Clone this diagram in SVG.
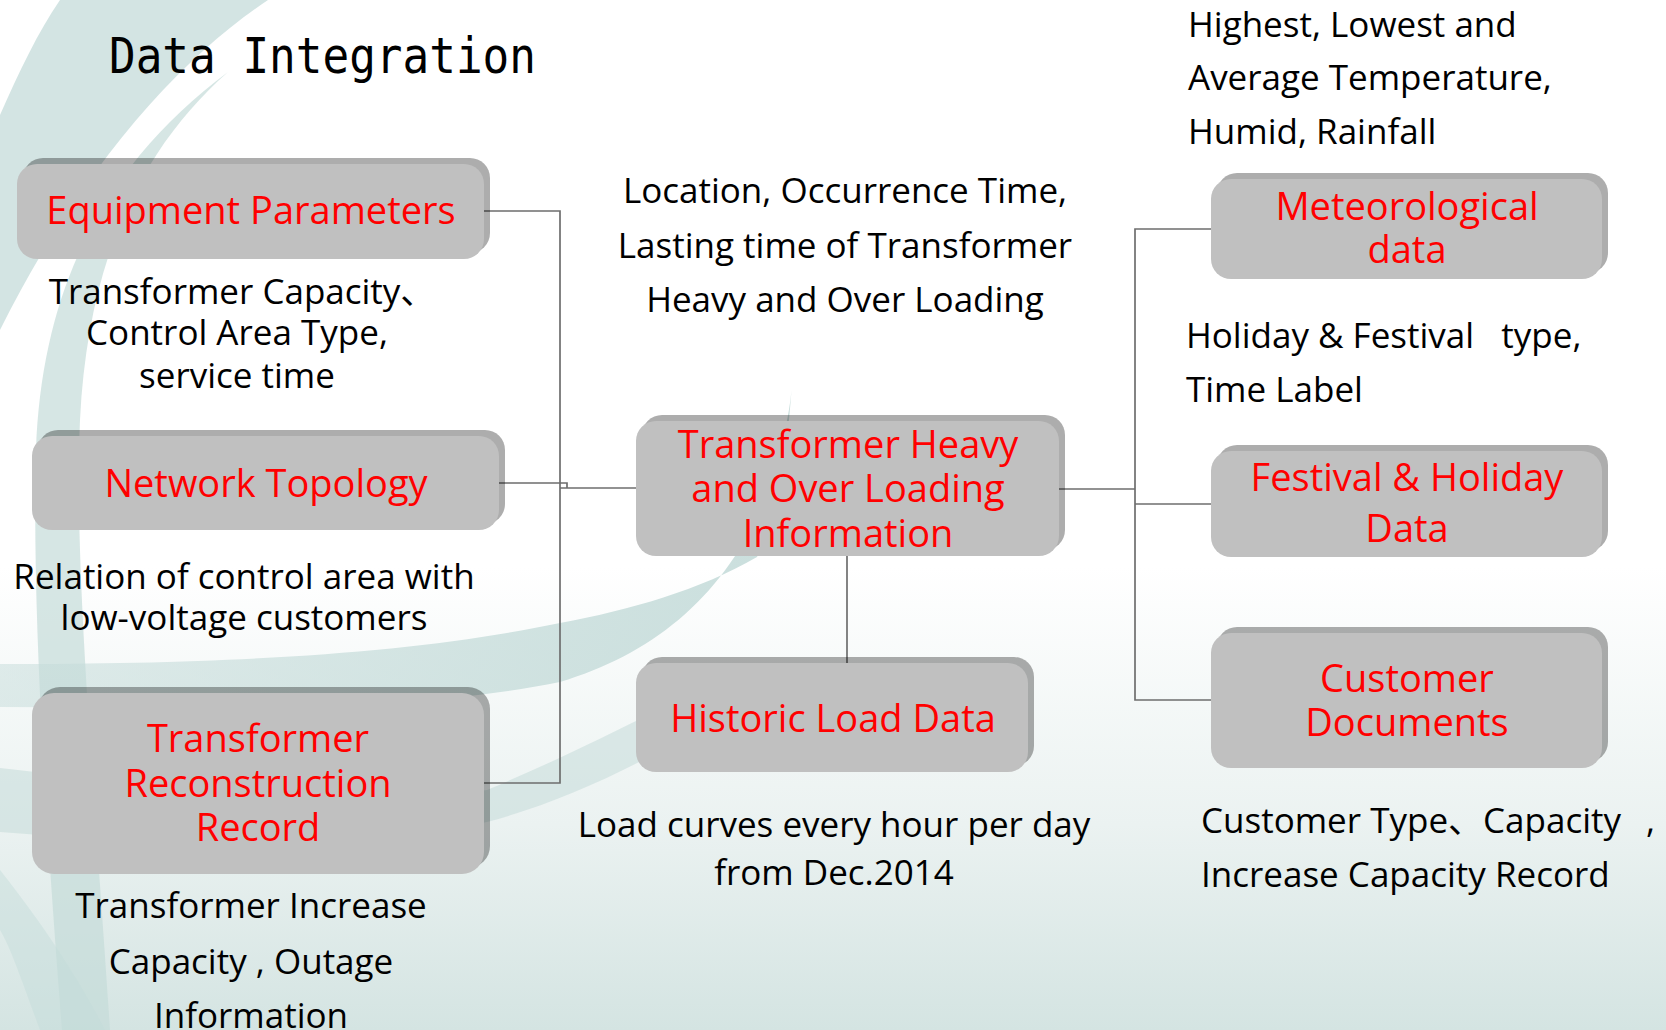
<svg xmlns="http://www.w3.org/2000/svg" width="1666" height="1030" viewBox="0 0 1666 1030">
  <defs>
    <linearGradient id="bgGrad" x1="0" y1="0" x2="0" y2="1030" gradientUnits="userSpaceOnUse">
      <stop offset="0" stop-color="#ffffff"/>
      <stop offset="0.55" stop-color="#ffffff"/>
      <stop offset="0.8" stop-color="#ebf2f1"/>
      <stop offset="1" stop-color="#d4e4e2"/>
    </linearGradient>
    <linearGradient id="swooshGrad" x1="0" y1="0" x2="800" y2="0" gradientUnits="userSpaceOnUse">
      <stop offset="0" stop-color="#c4dbd9" stop-opacity="0.5"/>
      <stop offset="0.6" stop-color="#c4dbd9" stop-opacity="0.75"/>
      <stop offset="1" stop-color="#c4dbd9" stop-opacity="0.9"/>
    </linearGradient>
    <style>
      .band { fill: #c4dbd9; }
      .shadow { fill: #000000; fill-opacity: 0.32; }
      .box { fill: #c0c0c0; }
      .conn { fill: none; stroke: #6e6e6e; stroke-width: 1.7; }
      .lbl { font-family: "Open Sans", "Noto Sans", "Noto Sans CJK SC", sans-serif; font-size: 38px; fill: #ff0000; text-anchor: middle; }
      .txt { font-family: "Open Sans", "Noto Sans", "Noto Sans CJK SC", sans-serif; font-size: 35px; fill: #000000; }
      .mid { text-anchor: middle; }
      .title { font-family: "DejaVu Sans Mono", "Liberation Mono", monospace; font-size: 49px; fill: #000000; }
    </style>
  </defs>

  <g id="background">
    <rect x="0" y="0" width="1666" height="1030" fill="url(#bgGrad)"/>
    <path class="band" opacity="0.75" d="M60,0 L268,0 C185,55 85,160 0,330 L0,115 C20,70 38,32 60,0 Z"/>
    <path class="band" opacity="0.7" d="M228,72 C140,150 88,260 80,420 C74,560 92,760 110,1030 L62,1030 C44,800 32,600 36,450 C42,280 110,160 228,72 Z"/>
    <path fill="url(#swooshGrad)" d="M792,383 C786,470 775,525 757,557 C700,590 630,610 560,623 C420,652 250,664 0,664 L0,707 C200,708 400,714 560,682 C650,655 720,600 760,510 C778,460 790,420 792,383 Z"/>
    <path class="band" opacity="0.55" d="M730,672 C640,720 570,755 487,790 C350,812 200,790 0,768 L0,832 C200,848 350,850 487,822 C570,800 650,760 740,705 Z"/>
    <path class="band" opacity="0.45" d="M0,870 C40,920 80,980 105,1030 L40,1030 C25,990 12,950 0,930 Z"/>
  </g>

  <g id="title">
    <text class="title" x="109" y="73" textLength="427" lengthAdjust="spacingAndGlyphs">Data Integration</text>
  </g>

  <g id="connectors">
    <path class="conn" d="M484,211 H560 V783 H484"/>
    <path class="conn" d="M499,483 H567 V488"/>
    <path class="conn" d="M560,488 H636"/>
    <path class="conn" d="M847,556 V663"/>
    <path class="conn" d="M1059,489 H1135"/>
    <path class="conn" d="M1211,229 H1135 V700 H1211"/>
    <path class="conn" d="M1135,504 H1211"/>
  </g>

  <g id="node-equipment">
    <rect class="shadow" x="23" y="158" width="467" height="95" rx="20"/>
    <rect class="box" x="17" y="164" width="467" height="95" rx="20"/>
    <text class="lbl" x="251" y="224">Equipment Parameters</text>
  </g>

  <g id="node-network">
    <rect class="shadow" x="38" y="430" width="467" height="94" rx="20"/>
    <rect class="box" x="32" y="436" width="467" height="94" rx="20"/>
    <text class="lbl" x="266" y="497">Network Topology</text>
  </g>

  <g id="node-reconstruction">
    <rect class="shadow" x="38" y="687" width="452" height="181" rx="22"/>
    <rect class="box" x="32" y="693" width="452" height="181" rx="22"/>
    <text class="lbl" x="258" y="752">Transformer</text>
    <text class="lbl" x="258" y="797">Reconstruction</text>
    <text class="lbl" x="258" y="841">Record</text>
  </g>

  <g id="node-overloading">
    <rect class="shadow" x="642" y="415" width="423" height="135" rx="20"/>
    <rect class="box" x="636" y="421" width="423" height="135" rx="20"/>
    <text class="lbl" x="848" y="458">Transformer Heavy</text>
    <text class="lbl" x="848" y="502">and Over Loading</text>
    <text class="lbl" x="848" y="547">Information</text>
  </g>

  <g id="node-historic">
    <rect class="shadow" x="642" y="657" width="392" height="109" rx="20"/>
    <rect class="box" x="636" y="663" width="392" height="109" rx="20"/>
    <text class="lbl" x="833" y="732">Historic Load Data</text>
  </g>

  <g id="node-meteorological">
    <rect class="shadow" x="1217" y="173" width="391" height="100" rx="20"/>
    <rect class="box" x="1211" y="179" width="391" height="100" rx="20"/>
    <text class="lbl" x="1407" y="220">Meteorological</text>
    <text class="lbl" x="1407" y="263">data</text>
  </g>

  <g id="node-festival">
    <rect class="shadow" x="1217" y="445" width="391" height="106" rx="20"/>
    <rect class="box" x="1211" y="451" width="391" height="106" rx="20"/>
    <text class="lbl" x="1407" y="491">Festival &amp; Holiday</text>
    <text class="lbl" x="1407" y="542">Data</text>
  </g>

  <g id="node-customer">
    <rect class="shadow" x="1217" y="627" width="391" height="135" rx="20"/>
    <rect class="box" x="1211" y="633" width="391" height="135" rx="20"/>
    <text class="lbl" x="1407" y="692">Customer</text>
    <text class="lbl" x="1407" y="736">Documents</text>
  </g>

  <g id="annotations">
    <text class="txt mid" x="242" y="304">Transformer Capacity、</text>
    <text class="txt mid" x="237" y="345">Control Area Type,</text>
    <text class="txt mid" x="237" y="388">service time</text>

    <text class="txt mid" x="244" y="589">Relation of control area with</text>
    <text class="txt mid" x="244" y="630">low-voltage customers</text>

    <text class="txt mid" x="251" y="918">Transformer Increase</text>
    <text class="txt mid" x="251" y="974" xml:space="preserve">Capacity , Outage</text>
    <text class="txt mid" x="251" y="1028">Information</text>

    <text class="txt mid" x="845" y="203">Location, Occurrence Time,</text>
    <text class="txt mid" x="845" y="258">Lasting time of Transformer</text>
    <text class="txt mid" x="845" y="312">Heavy and Over Loading</text>

    <text class="txt mid" x="834" y="837">Load curves every hour per day</text>
    <text class="txt mid" x="834" y="885">from Dec.2014</text>

    <text class="txt" x="1188" y="37">Highest, Lowest and</text>
    <text class="txt" x="1188" y="90">Average Temperature,</text>
    <text class="txt" x="1188" y="144">Humid, Rainfall</text>

    <text class="txt" x="1186" y="348" xml:space="preserve">Holiday &amp; Festival   type,</text>
    <text class="txt" x="1186" y="402">Time Label</text>

    <text class="txt" x="1201" y="833">Customer Type、Capacity<tspan x="1646">,</tspan></text>
    <text class="txt" x="1201" y="887">Increase Capacity Record</text>
  </g>
</svg>
